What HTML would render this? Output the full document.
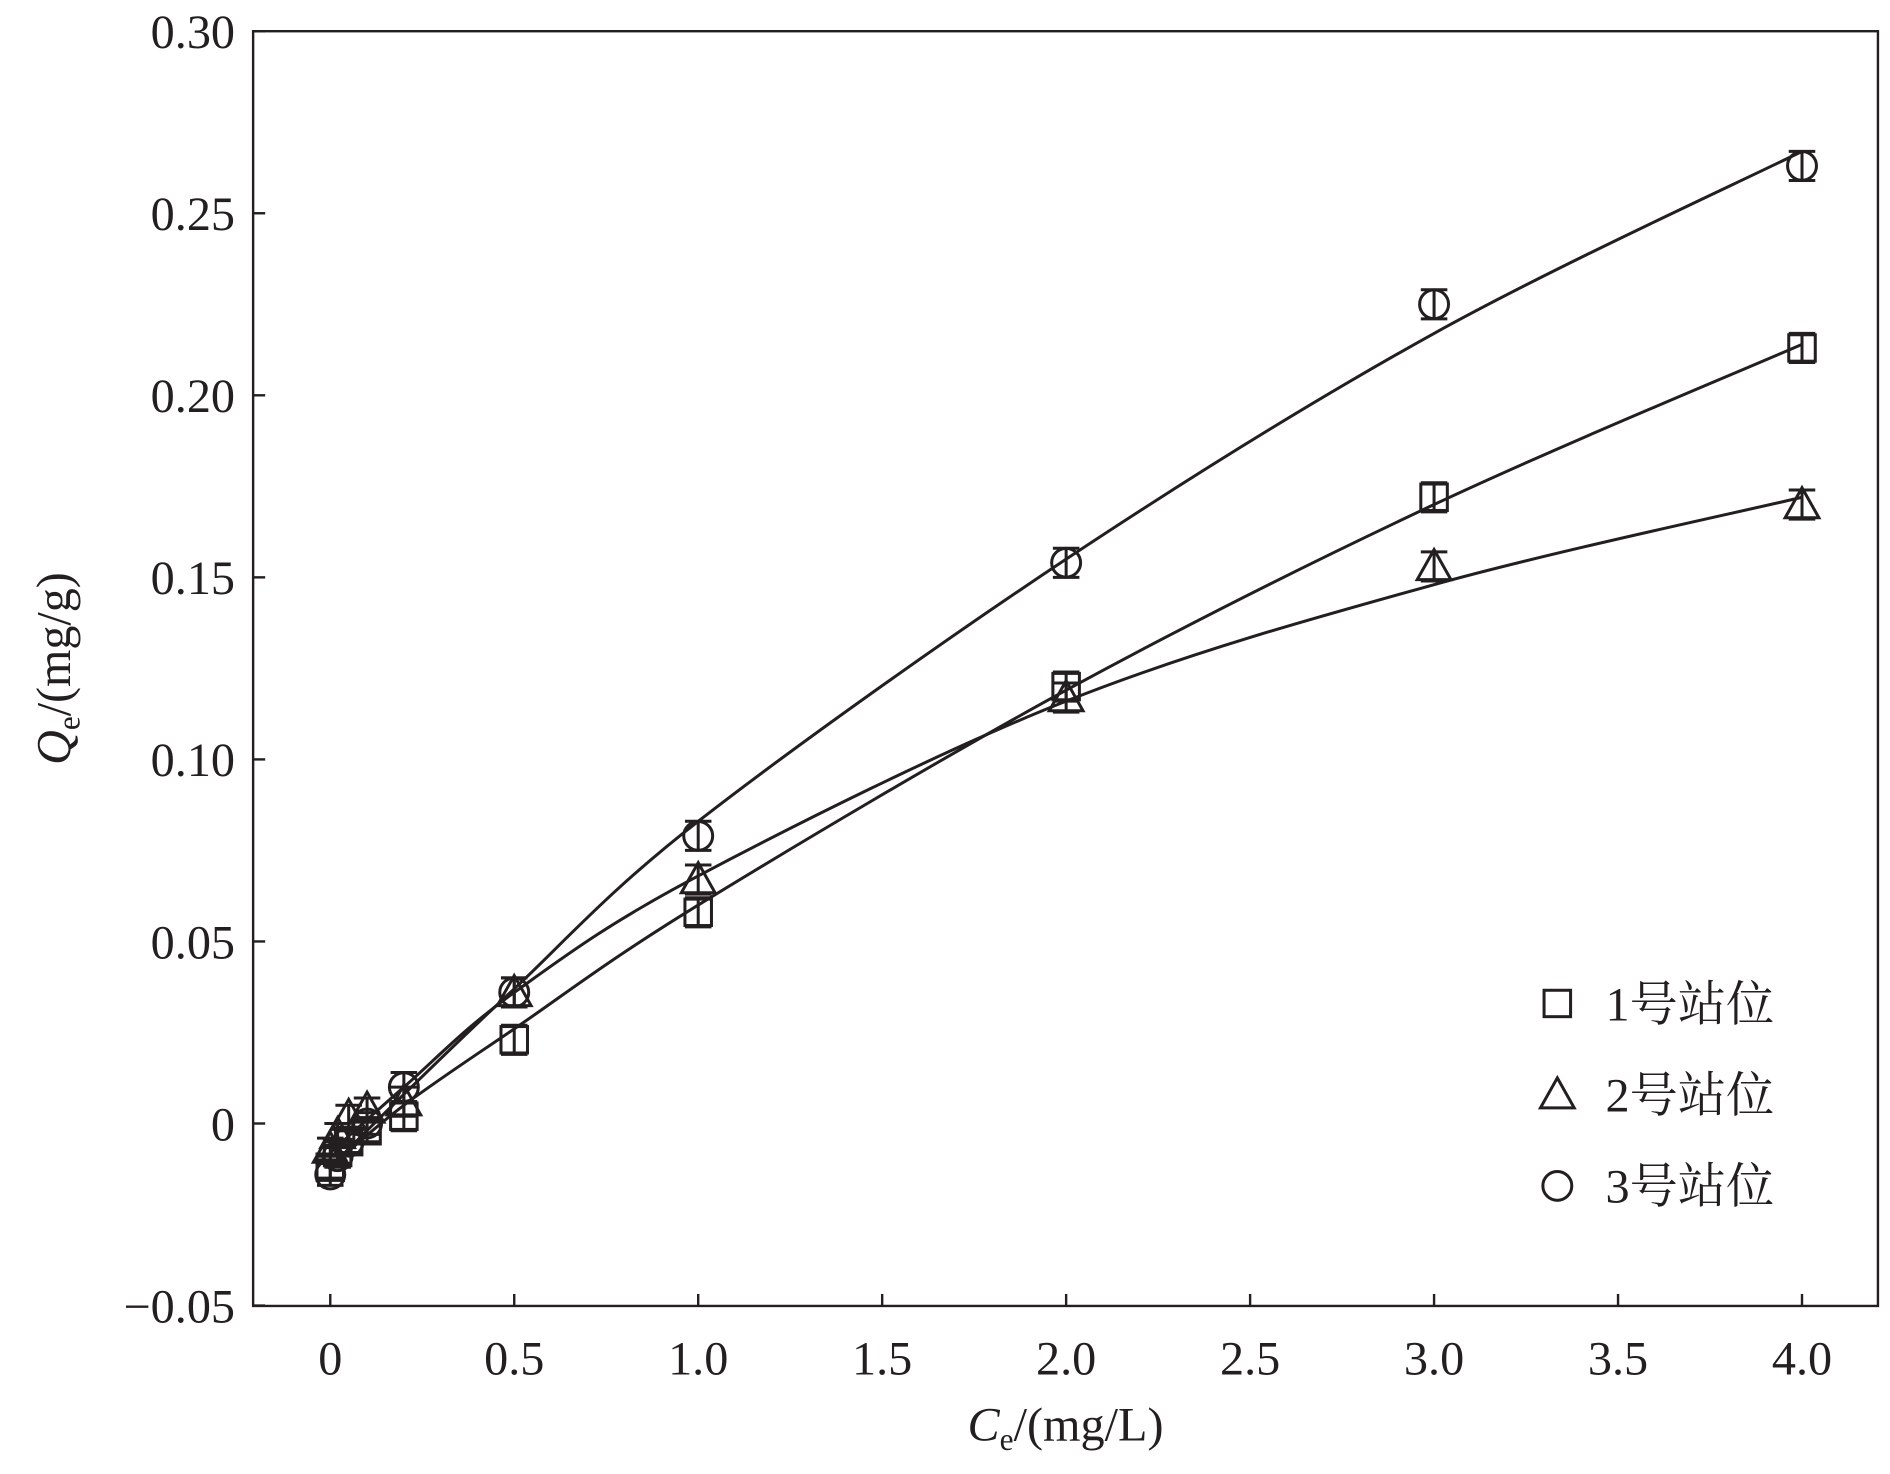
<!DOCTYPE html>
<html><head><meta charset="utf-8"><style>
html,body{margin:0;padding:0;background:#fff}
svg{display:block}
text{font-family:"Liberation Serif","Noto Serif CJK SC","Noto Sans CJK SC",serif;fill:#231f20}
</style></head><body>
<svg id="chart" width="1890" height="1474" viewBox="0 0 1568 1228" preserveAspectRatio="none" xmlns="http://www.w3.org/2000/svg">
<g id="axes"></g>
<g id="curves"></g>
<g id="marks"></g>
<g id="legend"></g>
</svg>
<script>
const xTicks=[0,0.5,1.0,1.5,2.0,2.5,3.0,3.5,4.0];
const xTickLabels=["0","0.5","1.0","1.5","2.0","2.5","3.0","3.5","4.0"];
const yTicks=[-0.05,0,0.05,0.10,0.15,0.20,0.25,0.30];
const yTickLabels=["\u22120.05","0","0.05","0.10","0.15","0.20","0.25","0.30"];
const ptX=[0,0.02,0.05,0.1,0.2,0.5,1,2,3,4];
const s1=[-0.012,-0.008,-0.005,-0.002,0.002,0.023,0.058,0.120,0.172,0.213];
const s2=[-0.007,-0.003,0.002,0.004,0.006,0.036,0.067,0.117,0.153,0.170];
const s3=[-0.014,-0.009,-0.005,0.000,0.010,0.036,0.079,0.154,0.225,0.263];
const err=[0.003,0.003,0.003,0.003,0.004,0.004,0.004,0.004,0.004,0.004];
const fitX=[0,0.2,0.5,1,2,3,4];
const fit1=[-0.012,0.005,0.026,0.060,0.119,0.170,0.214];
const fit2=[-0.008,0.010,0.036,0.068,0.116,0.148,0.172];
const fit3=[-0.012,0.008,0.037,0.083,0.155,0.217,0.267];
const labels=["1号站位","2号站位","3号站位"];

const NS="http://www.w3.org/2000/svg";
const L=210,R=1558,T=26,B=1088;
const X=v=>274+v*(1495-274)/4;
const Y=v=>936-v*(936-26)/0.30;
function mk(tag,attrs,parent){const e=document.createElementNS(NS,tag);for(const k in attrs)e.setAttribute(k,attrs[k]);parent.appendChild(e);return e;}
const axes=document.getElementById('axes');
const frame=mk('rect',{x:L,y:T,width:R-L,height:B-T,fill:'none',stroke:'#231f20','stroke-width':2},axes);


xTicks.forEach((v,i)=>{
 const t=mk('line',{x1:X(v),x2:X(v),y1:B,y2:B-10,stroke:'#231f20','stroke-width':2},axes);
 
 
 const l=mk('text',{x:X(v),y:B+57,'font-size':40,'text-anchor':'middle'},axes);l.textContent=xTickLabels[i];
 
 
});
yTicks.forEach((v,i)=>{
 const t=mk('line',{x1:L,x2:L+10,y1:Y(v),y2:Y(v),stroke:'#231f20','stroke-width':2},axes);
 
 
 const l=mk('text',{x:L-15,y:Y(v)+14,'font-size':40,'text-anchor':'end'},axes);l.textContent=yTickLabels[i];
 
 
});
const xt=mk('text',{x:884,y:1200,'font-size':40,'text-anchor':'middle'},axes);
xt.innerHTML='<tspan font-style="italic">C</tspan><tspan font-size="26" dy="8">e</tspan><tspan dy="-8">/(mg/L)</tspan>';


const yt=mk('text',{x:0,y:0,'font-size':40,'text-anchor':'middle',transform:'translate(58,557) rotate(-90)'},axes);
yt.innerHTML='<tspan font-style="italic">Q</tspan><tspan font-size="26" dy="8">e</tspan><tspan dy="-8">/(mg/g)</tspan>';



function spline(xs,ys){
 const p=xs.map((x,i)=>[X(x),Y(ys[i])]);let d='M'+p[0][0]+','+p[0][1];
 for(let i=0;i<p.length-1;i++){const p0=p[i-1]||p[i],p1=p[i],p2=p[i+1],p3=p[i+2]||p2;
  const c1=[p1[0]+(p2[0]-p0[0])/6,p1[1]+(p2[1]-p0[1])/6],c2=[p2[0]-(p3[0]-p1[0])/6,p2[1]-(p3[1]-p1[1])/6];
  d+=' C'+c1+' '+c2+' '+p2;}
 return d;}
const curves=document.getElementById('curves');
[fit1,fit2,fit3].forEach((f,i)=>{
 const c=mk('path',{d:spline(fitX,f),fill:'none',stroke:'#231f20','stroke-width':2.5},curves);
 
 
});
function marker(type,cx,cy,parent){
 let e;
 if(type===0)e=mk('rect',{x:cx-11,y:cy-11,width:22,height:22,fill:'none',stroke:'#231f20','stroke-width':2.5},parent);
 else if(type===1)e=mk('polygon',{points:`${cx},${cy-14} ${cx+14},${cy+11} ${cx-14},${cy+11}`,fill:'none',stroke:'#231f20','stroke-width':2.5},parent);
 else e=mk('circle',{cx:cx,cy:cy,r:12,fill:'none',stroke:'#231f20','stroke-width':2.5},parent);
 return e;}
const marks=document.getElementById('marks');
[s1,s2,s3].forEach((s,si)=>{
 s.forEach((v,i)=>{
  const cx=X(ptX[i]),cy=Y(v),eh=Y(v+err[i]),el=Y(v-err[i]);
  const eb=mk('path',{d:`M${cx},${eh}V${el}M${cx-11},${eh}H${cx+11}M${cx-11},${el}H${cx+11}`,stroke:'#231f20','stroke-width':2.5,fill:'none'},marks);
  
  
  const m=marker(si,cx,cy,marks);
  
  
 });
});
const legend=document.getElementById('legend');
labels.forEach((t,i)=>{
 const y=836+i*76;
 const m=marker(i,1292,y,legend);
 
 
 const l=mk('text',{x:1332,y:y+14,'font-size':40},legend);l.textContent=t;
 
 
});
</script>
</body></html>
